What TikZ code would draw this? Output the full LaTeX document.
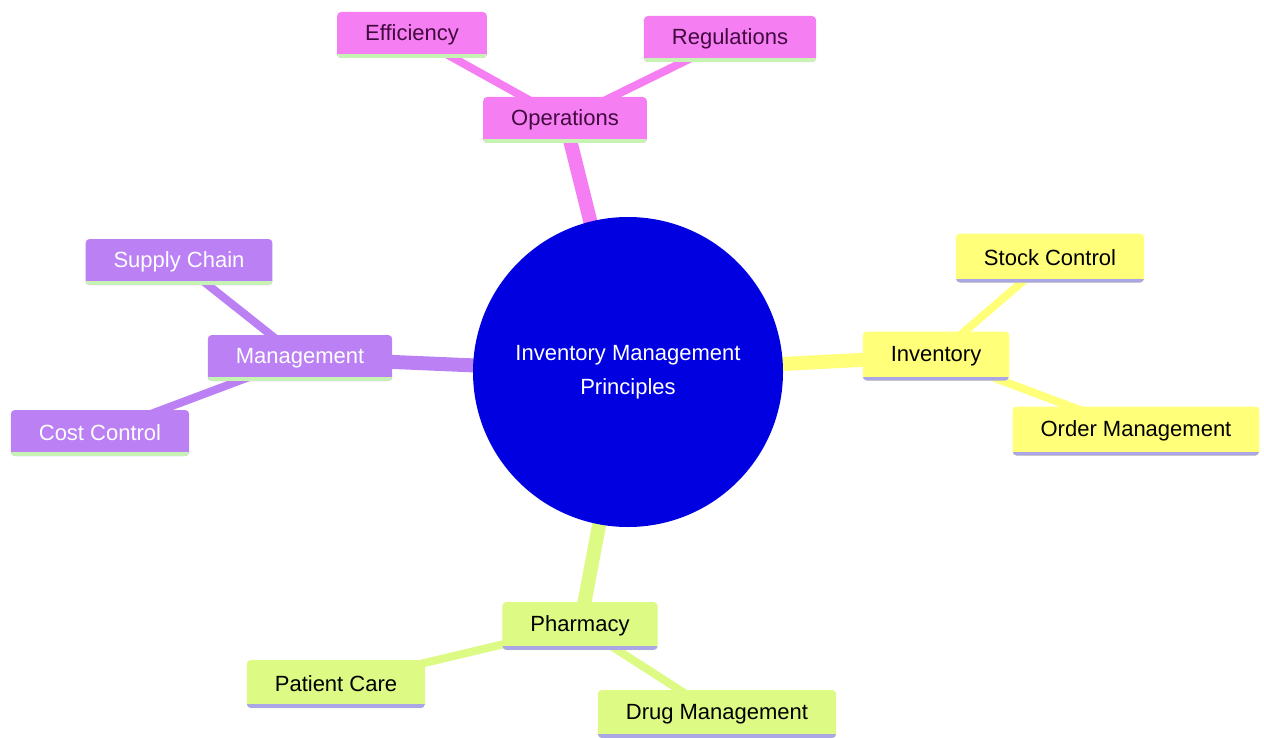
\documentclass[tikz,border=0pt]{standalone}
\usepackage{fontspec}
\setmainfont{Liberation Sans}
\usepackage{xcolor}
\usepackage{tikz}
\usetikzlibrary{backgrounds}
\definecolor{hubblue}{HTML}{0000E0}
\definecolor{opfill}{HTML}{F57EF2}
\definecolor{optext}{HTML}{42093F}
\definecolor{mgfill}{HTML}{BA80F4}
\definecolor{invfill}{HTML}{FFFF7A}
\definecolor{phfill}{HTML}{DCFA84}
\definecolor{greenrim}{HTML}{C6F2B4}
\definecolor{lilacrim}{HTML}{ABA6E6}

\begin{document}
\begin{tikzpicture}[
  x=0.5pt,y=-0.5pt,
  box/.style 2 args={fill=#1,rounded corners=2pt,minimum height=23pt,inner xsep=14pt,
            font=\fontsize{11}{13}\selectfont,
            path picture={\fill[#2,sharp corners] ([yshift=2pt]path picture bounding box.south west)
              rectangle (path picture bounding box.south east);}},
  op/.style={box={opfill}{greenrim},text=optext},
  mg/.style={box={mgfill}{greenrim},text=white},
  inv/.style={box={invfill}{lilacrim},text=black,minimum height=24.5pt},
  ph/.style={box={phfill}{lilacrim},text=black,minimum height=24pt},
  hub/.style={circle,fill=hubblue,minimum size=155pt,align=center,text=white,
              font=\fontsize{11}{17}\selectfont},
  br/.style={line width=7pt,#1},
  tw/.style={line width=4pt,#1}]
\useasboundingbox (0,0) rectangle (1264,738);
\node[hub] (root) at (628,372) {Inventory Management\\Principles};
\node[op] (ops) at (565,120) {Operations};
\node[op] (eff) at (412,35) {Efficiency};
\node[op] (reg) at (730,39) {Regulations};
\node[mg] (mgmt) at (300,358) {Management};
\node[mg] (sup) at (179,262) {Supply Chain};
\node[mg] (cost) at (100,433) {Cost Control};
\node[inv] (inv) at (936,356) {Inventory};
\node[inv] (stock) at (1050,258) {Stock Control};
\node[inv] (order) at (1136,431) {Order Management};
\node[ph] (pharm) at (580,626) {Pharmacy};
\node[ph] (pat) at (336,684) {Patient Care};
\node[ph] (drug) at (717,714) {Drug Management};
\begin{scope}[on background layer]
\draw[br=opfill] (root.center)--(ops.center);
\draw[br=mgfill] (root.center)--(mgmt.center);
\draw[br=invfill] (root.center)--(inv.center);
\draw[br=phfill] (root.center)--(pharm.center);
\draw[tw=opfill] (ops.center)--(eff.center);
\draw[tw=opfill] (ops.center)--(reg.center);
\draw[tw=mgfill] (mgmt.center)--(sup.center);
\draw[tw=mgfill] (mgmt.center)--(cost.center);
\draw[tw=invfill] (inv.center)--(stock.center);
\draw[tw=invfill] (inv.center)--(order.center);
\draw[tw=phfill] (pharm.center)--(pat.center);
\draw[tw=phfill] (pharm.center)--(drug.center);
\end{scope}
\end{tikzpicture}
\end{document}
